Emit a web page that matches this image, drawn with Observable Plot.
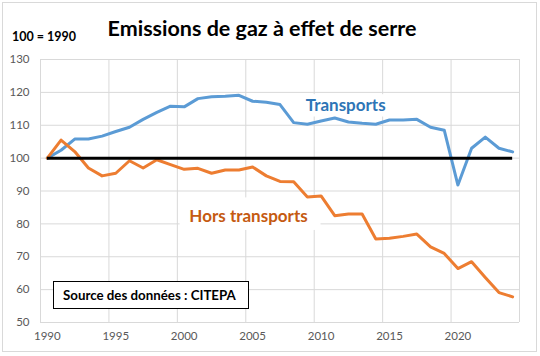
<!DOCTYPE html>
<html><head><meta charset="utf-8">
<script src="https://cdn.jsdelivr.net/npm/d3@7"></script>
<script src="https://cdn.jsdelivr.net/npm/@observablehq/plot@0.6"></script>
<style>
body{margin:0;background:#fff;}
#wrap{position:relative;width:540px;height:356px;font-family:Lato,"Noto Sans",sans-serif;}
#border{position:absolute;left:2px;top:2px;width:535px;height:350px;border:1px solid #d9d9d9;box-sizing:border-box;}
#title{position:absolute;left:0;width:524px;top:15px;text-align:center;font-weight:bold;font-size:21.5px;color:#000;}
#base{position:absolute;left:12px;top:29px;font-weight:bold;font-size:12.5px;color:#000;}
#source{position:absolute;left:53px;top:281px;width:196px;height:28px;border:1px solid #000;box-sizing:border-box;background:#fff;font-weight:bold;font-size:13.3px;line-height:26px;padding-left:9px;white-space:nowrap;}
#chart{position:absolute;left:0;top:0;}
</style></head>
<body>
<div id="wrap">
<div id="border"></div>
<div id="chart"></div>
<div id="title">Emissions de gaz à effet de serre</div>
<div id="base">100 = 1990</div>
<div id="source">Source des données : CITEPA</div>
</div>
<script>
const years = d3.range(1990, 2025);
const transports = [100,102.4,105.8,105.8,106.7,108.1,109.4,111.8,113.9,115.8,115.6,118.1,118.7,118.8,119.1,117.3,117.0,116.3,110.8,110.3,111.3,112.2,111.0,110.6,110.3,111.6,111.6,111.8,109.4,108.5,91.8,103.0,106.4,103.0,101.9];
const horsTransports = [100,105.5,102.0,97.0,94.6,95.4,99.2,97.0,99.5,98.0,96.6,96.9,95.4,96.4,96.4,97.3,94.6,92.9,92.8,88.2,88.5,82.5,83.0,83.0,75.4,75.6,76.2,76.9,73.0,71.0,66.4,68.5,63.7,59.1,57.8];
const yTicks = [50,60,70,80,90,100,110,120,130];
const xTickLabels = [1990,1995,2000,2005,2010,2015,2020];
const xGrid = [1989.5,1994.5,1999.5,2004.5,2009.5,2014.5,2019.5,2024.5];
const seriesLabels = [
  {text:"Transports", x:2011.8, y:115.9, color:"#2E75B6", x1:2008.6, x2:2015.2, y1:112.5, y2:119.3},
  {text:"Hors transports", x:2004.7, y:82.2, color:"#C55A11", x1:1999.7, x2:2010.0, y1:78.0, y2:87.9}
];

const rows = [];
years.forEach((yr,i)=>{
  rows.push({year:yr, value:transports[i], serie:"Transports"});
  rows.push({year:yr, value:horsTransports[i], serie:"Hors transports"});
});

const chart = Plot.plot({
  width:540, height:356,
  marginLeft:40, marginRight:21, marginTop:59, marginBottom:34,
  style:{fontFamily:"Lato, 'Noto Sans', sans-serif", fontSize:"11.5px", color:"#595959", background:"transparent"},
  x:{domain:[1989.5,2024.5]},
  y:{domain:[50,130]},
  color:{domain:["Transports","Hors transports"], range:["#5B9BD5","#ED7D31"]},
  marks:[
    Plot.gridY(yTicks,{stroke:"#d9d9d9", strokeOpacity:1}),
    Plot.gridX(xGrid,{stroke:"#d9d9d9", strokeOpacity:1}),
    Plot.axisY(yTicks,{tickSize:0, tickPadding:11, tickFormat:d=>d, fill:"#595959"}),
    Plot.axisX(xTickLabels,{tickSize:0, tickPadding:9, tickFormat:d=>String(d), fill:"#595959"}),
    Plot.rect(seriesLabels,{x1:"x1",x2:"x2",y1:"y1",y2:"y2",fill:"white"}),
    Plot.line(rows,{x:"year", y:"value", z:"serie", stroke:"serie", strokeWidth:3, curve:"linear"}),
    Plot.ruleY([100],{x1:1990, x2:2024, stroke:"#000", strokeWidth:3}),
    Plot.text(seriesLabels,{x:"x", y:"y", text:"text", fill:"color", fontWeight:"bold", fontSize:17})
  ]
});
document.getElementById("chart").appendChild(chart);
</script>
</body></html>
